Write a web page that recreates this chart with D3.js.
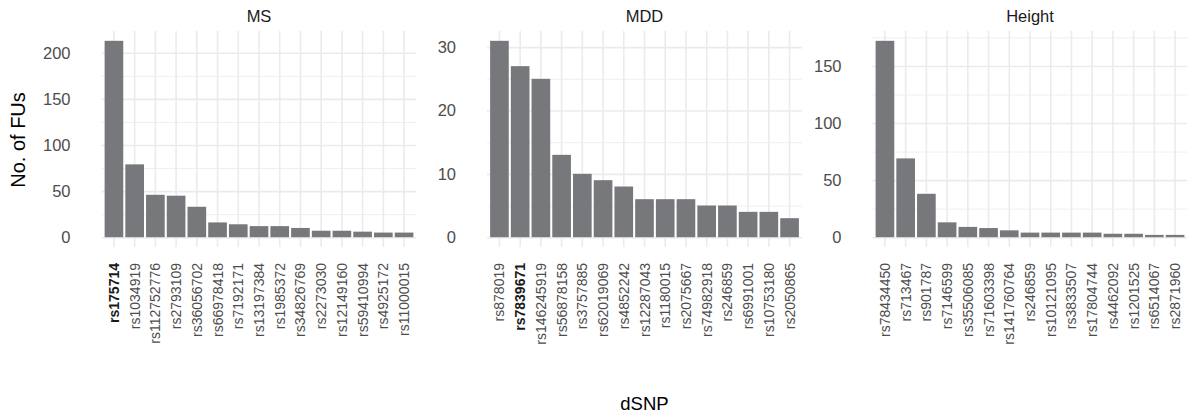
<!DOCTYPE html>
<html lang="en">
<head>
<meta charset="UTF-8">
<title>FUs per dSNP</title>
<script src="https://d3js.org/d3.v7.min.js"></script>
<style>
    body { margin: 0; background: #ffffff; }
    svg { display: block; font-family: "Liberation Sans", Arial, Helvetica, sans-serif; }
    .grid-major line { stroke: #ebebeb; stroke-width: 1.6; }
    .grid-minor line { stroke: #ebebeb; stroke-width: 0.8; }
    .bar { fill: #77787c; }
</style>
</head>
<body>
<div id="chart"></div>
<script>
// panel titles
const panels = ["MS", "MDD", "Height"];

// dSNPs per panel, ordered as in the plot
const msSnps = ["rs175714", "rs1034919", "rs112752776", "rs2793109", "rs36056702", "rs66978418", "rs7192171",
    "rs13197384", "rs1985372", "rs34826769", "rs2273030", "rs12149160", "rs59410994", "rs4925172", "rs11000015"];
const mddSnps = ["rs878019", "rs7839671", "rs146245919", "rs56878158", "rs3757885", "rs62019069", "rs4852242",
    "rs12287043", "rs1180015", "rs2075667", "rs74982918", "rs246859", "rs6991001", "rs10753180", "rs2050865"];
const heightSnps = ["rs78434450", "rs713467", "rs901787", "rs7146599", "rs35506085", "rs71603398", "rs141760764",
    "rs246859", "rs10121095", "rs3833507", "rs17804744", "rs4462092", "rs1201525", "rs6514067", "rs2871960"];

// number of FUs
const msValues = [213, 79, 46, 45, 33, 16, 14, 12, 12, 10, 7, 7, 6, 5, 5];
const mddValues = [31, 27, 25, 13, 10, 9, 8, 6, 6, 6, 5, 5, 4, 4, 3];
const heightValues = [172, 69, 38, 13, 9, 8, 6, 4, 4, 4, 4, 3, 3, 2, 2];

// y tick labels
const msTicks = [0, 50, 100, 150, 200];
const mddTicks = [0, 10, 20, 30];
const heightTicks = [0, 50, 100, 150];
const msMinor = [25, 75, 125, 175];
const mddMinor = [5, 15, 25];
const heightMinor = [25, 75, 125, 175];

// highlighted (bold) labels
const boldSnps = ["rs175714", "rs7839671"];

const snpLists = [msSnps, mddSnps, heightSnps];
const valueLists = [msValues, mddValues, heightValues];
const tickLists = [msTicks, mddTicks, heightTicks];
const minorLists = [msMinor, mddMinor, heightMinor];

const W = 1187, H = 419;
const panelLefts = [101.5, 487, 872.5];
const panelW = 315;
const panelTop = 31, panelBottom = 247;

const svg = d3.select("#chart").append("svg")
    .attr("width", W)
    .attr("height", H);

panels.forEach((name, p) => {
    const snps = snpLists[p];
    const vals = valueLists[p];
    const left = panelLefts[p];
    const maxV = d3.max(vals);

    const x = d3.scaleBand()
        .domain(snps)
        .range([left, left + panelW])
        .paddingInner(0.1)
        .paddingOuter(0.15);

    const y = d3.scaleLinear()
        .domain([-0.05 * maxV, 1.05 * maxV])
        .range([panelBottom, panelTop]);

    const g = svg.append("g");

    // minor horizontal grid
    const minor = minorLists[p].filter(v => v <= 1.05 * maxV);
    g.append("g")
        .attr("class", "grid-minor")
        .attr("transform", `translate(${left},0)`)
        .call(d3.axisLeft(y).tickValues(minor).tickSize(-panelW).tickFormat(""))
        .call(s => s.select(".domain").remove());

    // major horizontal grid
    g.append("g")
        .attr("class", "grid-major")
        .attr("transform", `translate(${left},0)`)
        .call(d3.axisLeft(y).tickValues(tickLists[p]).tickSize(-panelW).tickFormat(""))
        .call(s => s.select(".domain").remove());

    // vertical grid at each category
    g.append("g")
        .attr("class", "grid-major")
        .attr("transform", `translate(0,${panelBottom})`)
        .call(d3.axisBottom(x).tickSize(-(panelBottom - panelTop)).tickFormat(""))
        .call(s => s.select(".domain").remove());

    // bars
    g.selectAll(".bar")
        .data(snps.map((s, i) => ({ snp: s, value: vals[i] })))
        .enter()
        .append("rect")
        .attr("class", "bar")
        .attr("x", d => x(d.snp))
        .attr("width", x.bandwidth())
        .attr("y", d => y(d.value))
        .attr("height", d => y(0) - y(d.value));

    // y axis labels
    g.append("g")
        .attr("transform", `translate(${left},0)`)
        .call(d3.axisLeft(y).tickValues(tickLists[p]).tickSize(0).tickPadding(31))
        .call(s => s.select(".domain").remove())
        .selectAll("text")
        .attr("font-family", null)
        .attr("font-size", "16.5px")
        .attr("fill", "#4d4d4d");

    // x axis labels, rotated
    g.append("g")
        .attr("transform", `translate(0,${panelBottom})`)
        .call(d3.axisBottom(x).tickSize(0))
        .call(s => s.select(".domain").remove())
        .selectAll("text")
        .attr("font-family", null)
        .attr("font-size", "14px")
        .attr("fill", d => boldSnps.includes(d) ? "#1a1a1a" : "#4d4d4d")
        .attr("font-weight", d => boldSnps.includes(d) ? "bold" : "normal")
        .attr("text-anchor", "end")
        .attr("transform", "rotate(-90)")
        .attr("x", -16)
        .attr("y", 0)
        .attr("dy", "0.36em");

    // strip title
    g.append("text")
        .attr("x", left + panelW / 2)
        .attr("y", 21.5)
        .attr("text-anchor", "middle")
        .attr("font-size", "16.5px")
        .attr("fill", "#1a1a1a")
        .text(name);
});

// axis titles
svg.append("text")
    .attr("transform", `translate(25,140) rotate(-90)`)
    .attr("text-anchor", "middle")
    .attr("font-size", "20px")
    .attr("fill", "#000")
    .text("No. of FUs");

svg.append("text")
    .attr("x", (panelLefts[0] + panelLefts[2] + panelW) / 2)
    .attr("y", 410)
    .attr("text-anchor", "middle")
    .attr("font-size", "18.5px")
    .attr("fill", "#000")
    .text("dSNP");
</script>
</body>
</html>
